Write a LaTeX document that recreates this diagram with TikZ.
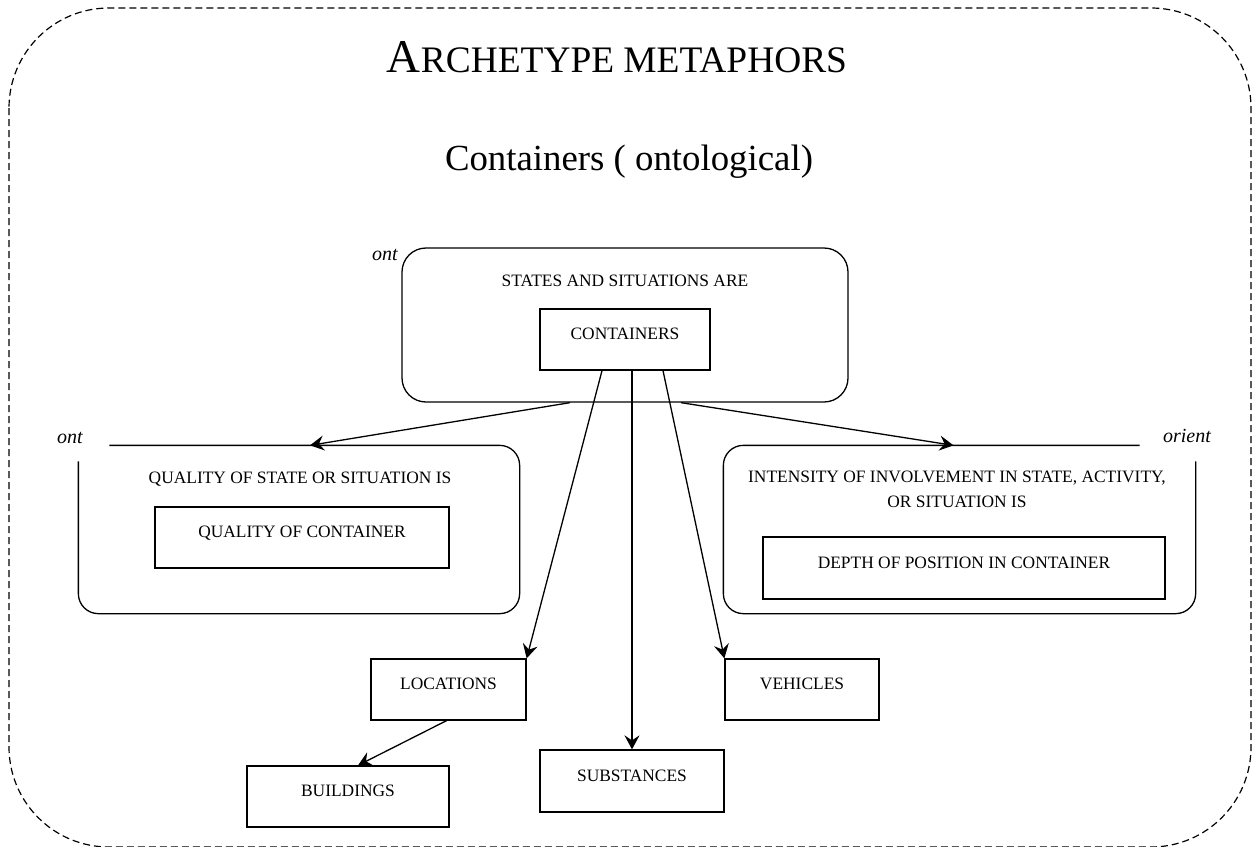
\documentclass[tikz,border=0pt]{standalone}
\usepackage{fontspec}
\setmainfont{Liberation Serif}
\usetikzlibrary{arrows.meta}

\begin{document}
\begin{tikzpicture}[x=0.5pt, y=-0.5pt, line width=0.65pt,
  leaf/.style={draw, rectangle, minimum height=30.5pt, inner sep=0pt,
    text height=6pt, text depth=6pt, font=\fontsize{8.7}{10}\selectfont},
  caption/.style={anchor=base, font=\fontsize{8.7}{12.5}\selectfont, align=center},
  tag/.style={anchor=base, font=\fontsize{10}{12}\selectfont\itshape},
  region/.style={minimum width=#1, minimum height=83.5pt, inner sep=0pt},
  arr/.style={-{Stealth[length=7pt,width=7.5pt,inset=2.5pt]}}]
                \useasboundingbox (0,0) rectangle (1252,846);
                % frame
                \draw [line width=0.6pt, dash pattern=on 3.5pt off 2pt, rounded corners=50pt] (9,8) rectangle (1251,847);
                % titles
                \node [anchor=base] (title) at (617,72) {\fontsize{23.5}{26}\selectfont A\fontsize{18.7}{22}\selectfont RCHETYPE METAPHORS};
                \node [anchor=base, font=\fontsize{18.4}{22}\selectfont] (subtitle) at (629,170) {Containers ( ontological)};
                % top box
                \node [draw, rounded corners=12pt, minimum width=223pt, minimum height=77pt] (statesbox) at (625,325) {};
                \node [caption] (statestext) at (625,286) {STATES AND SITUATIONS ARE};
                \node [leaf, minimum width=85pt] (containers) at (625,339.5) {CONTAINERS};
                \node [tag] (ontA) at (385,260) {ont};
                % left box
                \node [region=220pt] (qualbox) at (299,529.5) {};
                \draw [rounded corners=10pt] ([xshift=15.5pt]qualbox.north west) -| (qualbox.south east) -| ([yshift=-8pt]qualbox.north west);
                \node [caption] (qualtext) at (300,483.5) {QUALITY OF STATE OR SITUATION IS};
                \node [leaf, minimum width=147pt] (qualcont) at (302,537.5) {QUALITY OF CONTAINER};
                \node [tag] (ontB) at (70,443) {ont};
                % right box
                \node [region=235.5pt] (invbox) at (959.5,529.5) {};
                \draw [rounded corners=10pt] ([xshift=-28pt]invbox.north east) -| (invbox.south west) -| ([yshift=-8pt]invbox.north east);
                \node [caption] (invtext) at (957,507.5) {INTENSITY OF INVOLVEMENT IN STATE, ACTIVITY,\\OR SITUATION IS};
                \node [leaf, minimum width=201pt, minimum height=31pt] (depthpos) at (964,568) {DEPTH OF POSITION IN CONTAINER};
                \node [tag] (orient) at (1187,442) {orient};
                % lower boxes
                \node [leaf, minimum width=77.5pt] (locations) at (448.5,689.5) {LOCATIONS};
                \node [leaf, minimum width=101pt] (buildings) at (348,796.5) {BUILDINGS};
                \node [leaf, minimum width=92pt, minimum height=31pt] (substances) at (632,781) {SUBSTANCES};
                \node [leaf, minimum width=77pt] (vehicles) at (802,689.5) {VEHICLES};
                % arrows
                \draw [arr] ([xshift=-27.5pt]statesbox.south) -- ([xshift=5.5pt]qualbox.north);
                \draw [arr] ([xshift=28pt]statesbox.south) -- ([xshift=-3pt]invbox.north);
                \draw [arr] ([xshift=-11.5pt]containers.south) -- (locations.north east);
                \draw [arr] (substances.north |- containers.south) -- (substances.north);
                \draw [arr] ([xshift=19pt]containers.south) -- (vehicles.north west);
                \draw [arr] ([xshift=-1pt]locations.south) -- ([xshift=5pt]buildings.north);
            \end{tikzpicture}
\end{document}
